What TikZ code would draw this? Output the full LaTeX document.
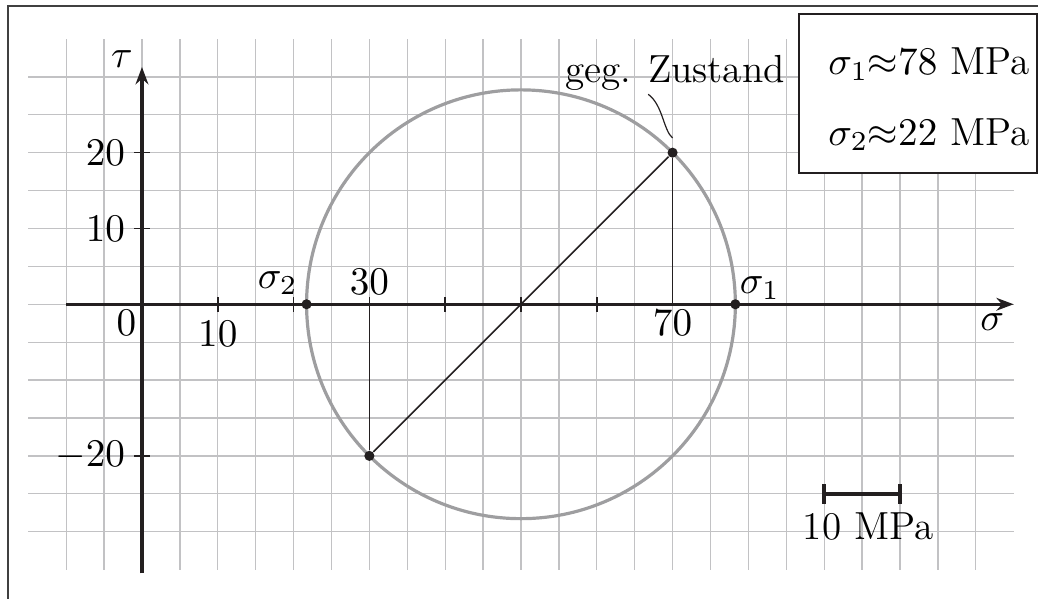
\documentclass[tikz,border=0pt]{standalone}
\usepackage{amsmath,amssymb}
\usetikzlibrary{arrows.meta}
\DeclareFontShape{OT1}{cmr}{m}{n}{<-12> cmr7 <12-> cmr10}{}
\DeclareFontShape{OML}{cmm}{m}{it}{<-12> cmmi7 <12-> cmmi10}{\skewchar\font127 }
\DeclareFontShape{OMS}{cmsy}{m}{n}{<-12> cmsy7 <12-> cmsy10}{\skewchar\font48 }
\definecolor{figGrid}{RGB}{194,194,196}
\definecolor{figCirc}{RGB}{158,158,160}
\definecolor{figAx}{RGB}{35,31,32}

\begin{document}
\begin{tikzpicture}[x=0.1cm,y=0.1cm,>={Stealth[length=6.5pt,width=4.8pt]},font=\fontsize{14.7}{17.6}\selectfont,
  dot/.style={circle,fill=figAx,inner sep=0pt,minimum size=3.8pt},
  tickmark/.style={figAx,line width=0.6pt},
  thinline/.style={figAx,line width=0.55pt}]
\useasboundingbox (-18.73,-38.88) rectangle (118.21,40.14);
\draw[black!75,line width=0.7pt] (-17.7,-45) -- (-17.7,39.35) -- (125,39.35);
% grid
\foreach \y in {-30,-25,...,30} \draw[figGrid,line width=0.5pt] (-15,\y) -- (115,\y);
\foreach \x in {-10,-5,...,110} \draw[figGrid,line width=0.5pt] (\x,-35) -- (\x,35);
% Mohr circle
\draw[figCirc,line width=1.2pt] (50,0) circle ({sqrt(800)});
\node[dot] (given) at (70,20) {};
\node[dot] (p30) at (30,-20) {};
\coordinate (f70) at (70,0);
\coordinate (f30) at (30,0);
\draw[thinline] (p30) -- (given);
\draw[thinline] (given) -- (f70);
\draw[thinline] (p30) -- (f30);
% axes
\coordinate (stip) at (115,0);
\coordinate (ttip) at (0,31.3);
\draw[->,figAx,line width=1.25pt] (-10,0) -- (stip);
\draw[->,figAx,line width=1.25pt] (0,-35.5) -- (ttip);
\foreach \x in {10,20,...,60} \draw[tickmark] (\x,-1) -- (\x,1);
\foreach \y in {10,20,-20} \draw[tickmark] (-1,\y) -- (1,\y);
\node[dot] (s1) at ({50+sqrt(800)},0) {};
\node[dot] (s2) at ({50-sqrt(800)},0) {};
% labels
\node[left,yshift=3pt] at (ttip) {$\tau$};
\node[below left] at (stip) {$\sigma$};
\node[below left,inner sep=2pt] at (0,0) {$0$};
\node[below] at (10,-1) {$10$};
\node[above] at (f30) {$30$};
\node[below,inner sep=2pt] at (f70) {$70$};
\node[left] at (-1,20) {$20$};
\node[left] at (-1,10) {$10$};
\node[left] at (-1,-20) {$-20$};
\node[above left] at (s2) {$\sigma_2$};
\node[above right,inner sep=1.5pt] at (s1) {$\sigma_1$};
\node[anchor=base] (zustand) at (70.3,29.3) {geg. Zustand};
\draw[thinline,line width=0.45pt] ([yshift=3.4pt]given.north) .. controls +(-3.5pt,3pt) and +(5.5pt,-4pt) .. ([xshift=-10pt,yshift=2pt]zustand.south);
% legend
\node[draw=figAx,fill=white,line width=0.6pt,minimum width=3.14cm,minimum height=2.1cm] (legend) at (102.4,27.8) {};
\node[anchor=base east,inner sep=0pt] at (117.15,30.25) {$\sigma_1{\approx}78$ MPa};
\node[anchor=base east,inner sep=0pt] at (117.15,21.0) {$\sigma_2{\approx}22$ MPa};
% scale bar
\coordinate (barL) at (90,-25);
\coordinate (barR) at (100,-25);
\draw[figAx,line width=1.5pt] (barL) -- (barR);
\draw[figAx,line width=1.3pt] ([yshift=-3.75pt]barL) -- ([yshift=3.75pt]barL);
\draw[figAx,line width=1.3pt] ([yshift=-3.75pt]barR) -- ([yshift=3.75pt]barR);
\node at (95.8,-29.3) {10 MPa};
\end{tikzpicture}
\end{document}
